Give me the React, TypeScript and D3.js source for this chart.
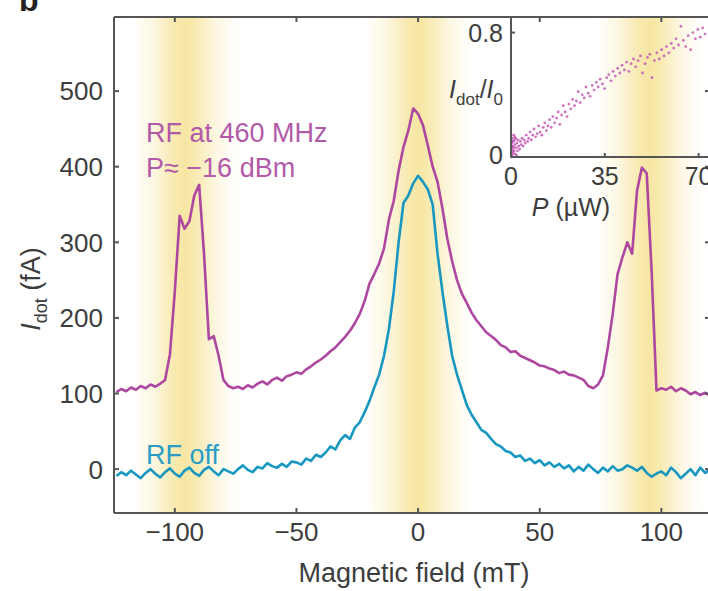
import React from "react";
import * as d3 from "d3";

// Magnetic field sweep (mT), 2 mT steps
const fieldMT: number[] = d3.range(-124, 121, 2);

// Dot current with RF off (fA)
const rfOff: number[] = [
  -9, -4, -8, -2, -7, -12, -5, 0, -6, -11, -4, 1, -6,
  -10, -2, 2, -5, -9, -1, 3, -3, -8, 0, -3, -6,
  0, 5, -1, -4, 3, 1, 8, 4, 2, 7, 3, 10,
  9, 6, 14, 11, 19, 16, 22, 30, 26, 38, 45, 40,
  55, 62, 75, 90, 108, 125, 150, 185, 235, 300, 352, 362,
  378, 388, 380, 370, 350, 285, 235, 190, 150, 125, 105, 85,
  72, 62, 52, 48, 40, 33, 30, 24, 22, 16, 18, 11,
  14, 8, 12, 5, 9, 3, 7, 1, 5, -3, 3, -2,
  6, 0, -5, 2, -3, 4, -2, 0, 5, 2, -2, 3,
  -5, -10, -6, -3, -8, 2, -4, -12, -6, 0, -8, 2,
  -5, -1,
];

// Dot current with RF at 460 MHz (fA)
const rfOn: number[] = [
  102, 106, 103, 108, 105, 110, 107, 112, 109, 113, 118, 152,
  235, 335, 318, 328, 362, 376, 285, 172, 176, 150, 118, 110,
  107, 109, 106, 111, 108, 113, 116, 112, 118, 121, 117, 123,
  125, 128, 126, 132, 136, 141, 145, 150, 156, 161, 168, 175,
  183, 193, 205, 222, 245, 258, 272, 292, 330, 355, 395, 426,
  448, 477, 470, 455, 428, 400, 380, 345, 305, 275, 250, 232,
  220, 207, 197, 189, 181, 176, 171, 164, 161, 155, 156, 150,
  147, 144, 141, 137, 136, 133, 131, 127, 129, 125, 124, 121,
  118, 110, 107, 112, 124, 161, 205, 258, 280, 300, 285, 368,
  399, 391, 262, 104, 107, 105, 109, 103, 107, 104, 99, 102,
  98, 101, 97,
];

// Resonance bands (mT)
const bandCenters: number[] = [-96, 0, 95];
const bandHalfWidth = 22;

const xTicks: number[] = [-100, -50, 0, 50, 100];
const yTicks: number[] = [0, 100, 200, 300, 400, 500];

// Inset: [P (µW), I_dot / I_0]
const insetPoints: [number, number][] = [
  [0.1, 0.0], [0.2, 0.05], [0.3, 0.01], [0.3, 0.06], [0.4, 0.09], [0.5, 0.12], [0.5, 0.07],
  [0.6, 0.03], [0.6, 0.10], [0.7, 0.07], [0.8, 0.02], [0.9, 0.10], [0.9, 0.04], [1.0, 0.14],
  [1.1, 0.06], [1.2, 0.04], [1.3, 0.11], [1.4, 0.13], [1.5, 0.08], [1.6, 0.02], [1.8, 0.12],
  [2.0, 0.06], [2.1, 0.01], [2.2, 0.09], [2.4, 0.04], [2.6, 0.11], [2.9, 0.07], [3.2, 0.05],
  [3.5, 0.10], [3.8, 0.08], [4.1, 0.12], [4.5, 0.07], [4.9, 0.11], [5.3, 0.09], [5.7, 0.14],
  [6.2, 0.10], [6.6, 0.12], [7.1, 0.16], [7.6, 0.11], [8.1, 0.14], [8.6, 0.18], [9.2, 0.13],
  [9.8, 0.15], [10.3, 0.20], [10.9, 0.16], [11.5, 0.14], [12.0, 0.19], [12.6, 0.22],
  [13.2, 0.17], [13.8, 0.20], [14.4, 0.24], [15.0, 0.19], [15.6, 0.26], [16.3, 0.22],
  [17.0, 0.25], [17.6, 0.29], [18.2, 0.21], [18.9, 0.27], [19.5, 0.33], [20.2, 0.29],
  [20.9, 0.26], [21.6, 0.34], [22.3, 0.31], [23.0, 0.37], [23.7, 0.33], [24.4, 0.36],
  [25.1, 0.42], [25.8, 0.35], [26.6, 0.40], [27.3, 0.38], [28.0, 0.45], [28.8, 0.41],
  [29.5, 0.39], [30.3, 0.46], [31.0, 0.43], [31.8, 0.48], [32.5, 0.45], [33.3, 0.50],
  [34.1, 0.47], [34.9, 0.44], [35.7, 0.51], [36.5, 0.53], [37.3, 0.49], [38.1, 0.55],
  [38.9, 0.52], [39.8, 0.57], [40.6, 0.54], [41.4, 0.59], [42.3, 0.56], [43.1, 0.61],
  [44.0, 0.55], [44.8, 0.60], [45.7, 0.63], [46.5, 0.58], [47.4, 0.62], [48.3, 0.65],
  [49.1, 0.54], [50.0, 0.60], [50.9, 0.64], [51.8, 0.66], [52.6, 0.51], [53.5, 0.62],
  [54.4, 0.67], [55.3, 0.63], [56.2, 0.69], [57.1, 0.65], [58.0, 0.71], [58.9, 0.67],
  [59.8, 0.73], [60.7, 0.70], [61.6, 0.76], [62.5, 0.72], [63.4, 0.84], [64.3, 0.75],
  [65.2, 0.71], [66.1, 0.78], [67.0, 0.69], [67.9, 0.80], [68.8, 0.76], [69.7, 0.82],
  [70.6, 0.77], [71.5, 0.83], [72.4, 0.79],
];
const insetXTicks: number[] = [0, 35, 70];
const insetYTicks: number[] = [0, 0.8];

const W = 708;
const H = 591;
const FONT = "'Liberation Sans', Arial, Helvetica, sans-serif";
const AXIS = "#555";
const TEXT = "#3d3d3d";
const MAGENTA = "#ad479f";
const CYAN = "#1897c0";
const BAND = "#f7e6a3";

export default function App() {
  const left = 114, right = 710, top = 17, bottom = 513;
  const x = d3.scaleLinear().domain([-125, 120]).range([left, right]);
  const y = d3.scaleLinear().domain([-58, 598]).range([bottom, top]);

  const line = d3
    .line<[number, number]>()
    .x((d) => x(d[0]))
    .y((d) => y(d[1]));

  const offPath = line(fieldMT.map((f, i) => [f, rfOff[i]] as [number, number])) || "";
  const onPath = line(fieldMT.map((f, i) => [f, rfOn[i]] as [number, number])) || "";

  // inset
  const iLeft = 511, iRight = 708, iTop = 17, iBottom = 157;
  const ix = d3.scaleLinear().domain([0, 73.5]).range([iLeft, iRight]);
  const iy = d3.scaleLinear().domain([0, 0.9]).range([iBottom, iTop]);

  const fs = 26;

  return (
    <div style={{ position: "absolute", left: 0, top: 0 }}>
      <svg width={W} height={H} style={{ display: "block", background: "#fff" }} fontFamily={FONT}>
        <defs>
          <linearGradient id="bandGrad" x1="0" x2="1" y1="0" y2="0">
            <stop offset="0" stopColor={BAND} stopOpacity={0} />
            <stop offset="0.2" stopColor={BAND} stopOpacity={0.3} />
            <stop offset="0.4" stopColor={BAND} stopOpacity={0.85} />
            <stop offset="0.5" stopColor={BAND} stopOpacity={1} />
            <stop offset="0.6" stopColor={BAND} stopOpacity={0.85} />
            <stop offset="0.8" stopColor={BAND} stopOpacity={0.3} />
            <stop offset="1" stopColor={BAND} stopOpacity={0} />
          </linearGradient>
          <clipPath id="plotClip">
            <rect x={left} y={top} width={right - left} height={bottom - top} />
          </clipPath>
        </defs>

        {/* panel letter */}
        <text x={19} y={11} fontSize={32} fontWeight="bold" fill="#222">b</text>

        {/* resonance bands */}
        <g clipPath="url(#plotClip)">
          {bandCenters.map((c) => (
            <rect
              key={c}
              x={x(c - bandHalfWidth)}
              y={top}
              width={x(c + bandHalfWidth) - x(c - bandHalfWidth)}
              height={bottom - top}
              fill="url(#bandGrad)"
            />
          ))}
        </g>

        {/* traces */}
        <g clipPath="url(#plotClip)" fill="none" strokeWidth={2.6} strokeLinejoin="round">
          <path d={offPath} stroke={CYAN} />
          <path d={onPath} stroke={MAGENTA} />
        </g>

        {/* main frame */}
        <g stroke={AXIS} strokeWidth={2} fill="none">
          <line x1={left} x2={left} y1={top} y2={bottom} />
          <line x1={left} x2={right} y1={bottom} y2={bottom} />
          <line x1={left} x2={right} y1={top} y2={top} />
          <line x1={right} x2={right} y1={top} y2={bottom} />
          {xTicks.map((t) => (
            <g key={"xt" + t}>
              <line x1={x(t)} x2={x(t)} y1={bottom} y2={bottom - 5} />
              <line x1={x(t)} x2={x(t)} y1={top} y2={top + 5} />
            </g>
          ))}
          {yTicks.map((t) => (
            <g key={"yt" + t}>
              <line x1={left} x2={left + 5} y1={y(t)} y2={y(t)} />
              <line x1={right} x2={right - 5} y1={y(t)} y2={y(t)} />
            </g>
          ))}
        </g>

        {/* tick labels */}
        <g fill={TEXT} fontSize={fs}>
          {xTicks.map((t) => (
            <text key={"xl" + t} x={x(t)} y={541} textAnchor="middle">
              {t < 0 ? "\u2212" + Math.abs(t) : String(t)}
            </text>
          ))}
          {yTicks.map((t) => (
            <text key={"yl" + t} x={103} y={y(t)} dy="0.36em" textAnchor="end">
              {t}
            </text>
          ))}
        </g>

        {/* axis titles */}
        <text x={414} y={582} textAnchor="middle" fontSize={27} fill={TEXT}>
          Magnetic field (mT)
        </text>
        <text transform="translate(40,289) rotate(-90)" textAnchor="middle" fontSize={27} fill={TEXT}>
          <tspan fontStyle="italic">I</tspan>
          <tspan fontSize={18} dy={7}>dot</tspan>
          <tspan dy={-7}> (fA)</tspan>
        </text>

        {/* series labels */}
        <g fontSize={27}>
          <text x={146} y={142} fill="#b25aa8">RF at 460 MHz</text>
          <text x={146} y={177} fill="#b25aa8">P≈ −16 dBm</text>
          <text x={146} y={464} fill="#2a9dc6">RF off</text>
        </g>

        {/* inset */}
        <g>
          <g fill="#c45bb4" fillOpacity={0.85}>
            {insetPoints.map((d, i) => (
              <circle key={"ip" + i} cx={ix(d[0])} cy={iy(d[1])} r={1.4} />
            ))}
          </g>
          <g stroke={AXIS} strokeWidth={2} fill="none">
            <line x1={iLeft} x2={iLeft} y1={iTop} y2={iBottom} />
            <line x1={iLeft} x2={iRight} y1={iBottom} y2={iBottom} />
            {insetXTicks.map((t) => (
              <line key={"ixt" + t} x1={ix(t)} x2={ix(t)} y1={iBottom} y2={iBottom - 4} />
            ))}
            {insetYTicks.map((t) => (
              <line key={"iyt" + t} x1={iLeft} x2={iLeft + 4} y1={iy(t)} y2={iy(t)} />
            ))}
          </g>
          <g fill={TEXT} fontSize={25}>
            {insetXTicks.map((t) => (
              <text key={"ixl" + t} x={ix(t)} y={185} textAnchor="middle">{t}</text>
            ))}
            <text x={503} y={iy(0.8)} dy="0.36em" textAnchor="end">0.8</text>
            <text x={503} y={iy(0) - 2} dy="0.36em" textAnchor="end">0</text>
            <text x={503} y={98} textAnchor="end">
              <tspan fontStyle="italic">I</tspan>
              <tspan fontSize={17} dy={7}>dot</tspan>
              <tspan dy={-7}>/</tspan>
              <tspan fontStyle="italic">I</tspan>
              <tspan fontSize={17} dy={7}>0</tspan>
            </text>
            <text x={571} y={216} textAnchor="middle">
              <tspan fontStyle="italic">P</tspan>
              <tspan> (µW)</tspan>
            </text>
          </g>
        </g>
      </svg>
    </div>
  );
}
